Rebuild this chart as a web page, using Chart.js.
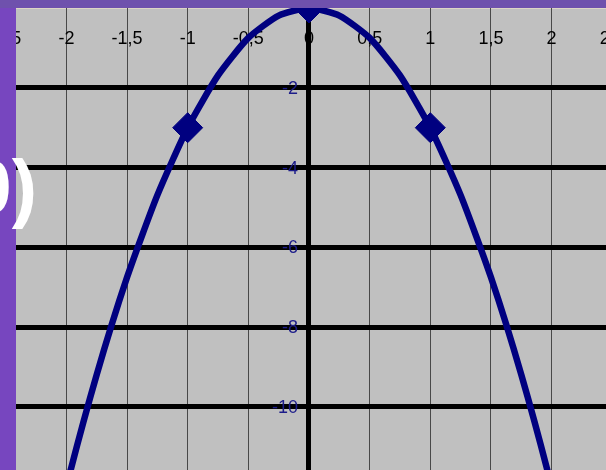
<!DOCTYPE html>
<html>
<head>
<meta charset="utf-8">
<script src="https://cdn.jsdelivr.net/npm/chart.js@4"></script>
<style>
  html, body { margin: 0; padding: 0; }
  body { width: 606px; height: 470px; background: #7746bf; position: relative; overflow: hidden; }
  #topStrip { position: absolute; left: 0; top: 0; width: 606px; height: 8px; background: #6f51ad; }
  #chart { position: absolute; left: 0; top: 0; }
  #title { position: absolute; left: -200px; top: 150px; width: 237px; text-align: right;
           font: bold 76px/74px "Liberation Sans", Arial, sans-serif; color: #fff; white-space: nowrap; }
</style>
</head>
<body>
<div id="topStrip"></div>
<canvas id="chart" width="606" height="470"></canvas>
<div id="title">f(0)</div>
<script>
// curve y = f(x)
const xValues = [-2.5, -2.25, -2, -1.75, -1.5, -1.25, -1, -0.75, -0.5, -0.25, 0,
                 0.25, 0.5, 0.75, 1, 1.25, 1.5, 1.75, 2, 2.25, 2.5];
const yValues = [-18.75, -15.19, -12, -9.19, -6.75, -4.69, -3, -1.69, -0.75, -0.19, 0,
                 -0.19, -0.75, -1.69, -3, -4.69, -6.75, -9.19, -12, -15.19, -18.75];

// marked points
const markerX = [-1, 0, 1];
const markerY = [-3, 0, -3];

// tick labels
const xTicks = [-2.5, -2, -1.5, -1, -0.5, 0, 0.5, 1, 1.5, 2, 2.5];
const xTickLabels = ["-2,5", "-2", "-1,5", "-1", "-0,5", "0", "0,5", "1", "1,5", "2", "2,5"];
const yTicks = [-2, -4, -6, -8, -10];
const yTickLabels = ["-2", "-4", "-6", "-8", "-10"];

const curveColor = "#000080";

// gray plot background + the thin light edge at the top
const plotBackground = {
  id: "plotBackground",
  beforeDraw(chart) {
    const { ctx, chartArea: a } = chart;
    ctx.save();
    ctx.fillStyle = "#c0c0c0";
    ctx.fillRect(a.left, a.top, a.right - a.left, a.bottom - a.top);
    ctx.fillStyle = "#ddd5c6";
    ctx.fillRect(a.left, a.top, a.right - a.left, 1);
    ctx.restore();
  }
};

// tick labels sit inside the plot, next to the axes
const axisLabels = {
  id: "axisLabels",
  beforeDatasetsDraw(chart) {
    const { ctx, chartArea: a, scales: { x, y } } = chart;
    ctx.save();
    ctx.beginPath();
    ctx.rect(a.left, a.top, a.right - a.left, a.bottom - a.top);
    ctx.clip();
    ctx.font = '18px "Liberation Sans", Arial, sans-serif';
    ctx.textBaseline = "middle";

    ctx.fillStyle = "#000";
    ctx.textAlign = "center";
    xTicks.forEach((v, i) => ctx.fillText(xTickLabels[i], x.getPixelForValue(v), a.top + 31));

    ctx.fillStyle = "#1c1c8a";
    ctx.textAlign = "right";
    const x0 = x.getPixelForValue(0);
    yTicks.forEach((v, i) => ctx.fillText(yTickLabels[i], x0 - 11, y.getPixelForValue(v) + 1));
    ctx.restore();
  }
};

new Chart(document.getElementById("chart").getContext("2d"), {
  type: "scatter",
  data: {
    datasets: [
      {
        data: xValues.map((v, i) => ({ x: v, y: yValues[i] })),
        showLine: true,
        borderColor: curveColor,
        borderWidth: 6.5,
        pointRadius: 0,
        tension: 0.2,
        fill: false,
        clip: 0
      },
      {
        data: markerX.map((v, i) => ({ x: v, y: markerY[i] })),
        showLine: false,
        pointStyle: "rectRot",
        pointRadius: 15,
        backgroundColor: curveColor,
        borderColor: curveColor,
        borderWidth: 1,
        clip: 0
      }
    ]
  },
  options: {
    responsive: false,
    animation: false,
    devicePixelRatio: 1,
    layout: { autoPadding: false, padding: { left: 16, top: 8, right: 0, bottom: 0 } },
    plugins: { legend: { display: false }, tooltip: { enabled: false } },
    scales: {
      x: {
        type: "linear",
        min: -2.4155,
        max: 2.4485,
        afterBuildTicks: s => {
          s.ticks = xTicks.filter(v => v >= s.min && v <= s.max).map(value => ({ value }));
        },
        afterFit: s => { s.height = 0; },
        ticks: { display: false },
        border: { display: false },
        grid: {
          drawTicks: false,
          color: c => (c.tick && c.tick.value === 0) ? "#000" : "#484848",
          lineWidth: c => (c.tick && c.tick.value === 0) ? 5 : 1
        }
      },
      y: {
        type: "linear",
        min: -11.58,
        max: 0,
        afterBuildTicks: s => { s.ticks = yTicks.map(value => ({ value })); },
        afterFit: s => { s.width = 0; },
        ticks: { display: false },
        border: { display: false },
        grid: { drawTicks: false, color: "#000", lineWidth: 5 }
      }
    }
  },
  plugins: [plotBackground, axisLabels]
});
</script>
</body>
</html>
